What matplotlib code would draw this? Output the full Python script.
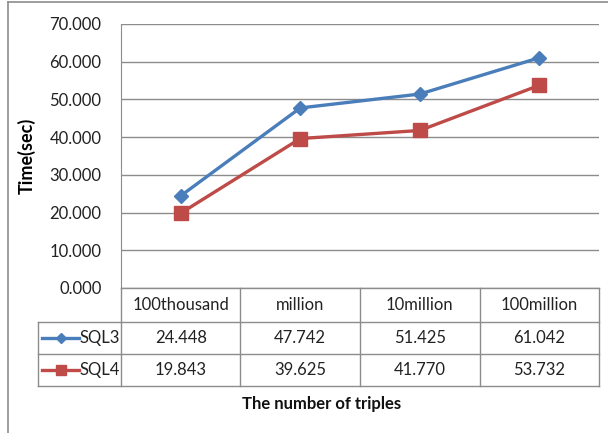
import matplotlib
matplotlib.use("Agg")
import matplotlib.pyplot as plt
from matplotlib.lines import Line2D

plt.rcParams['font.family'] = ['Lato', 'DejaVu Sans']

categories = ["100thousand", "million", "10million", "100million"]
series_names = ["SQL3", "SQL4"]
sql3 = [24.448, 47.742, 51.425, 61.042]
sql4 = [19.843, 39.625, 41.770, 53.732]
y_ticks = [0, 10, 20, 30, 40, 50, 60, 70]

W, H = 608, 433
fig = plt.figure(figsize=(W / 100, H / 100), dpi=100)


def fx(px):
    return px / W


def fy(py):
    return 1 - py / H


TXT = "#222222"
FS = 12

# plot area in pixel layout
L, R, T, B = 121, 599, 24, 288
ax = fig.add_axes([fx(L), fy(B), fx(R) - fx(L), fy(T) - fy(B)])
ax.set_xlim(-0.5, len(categories) - 0.5)
ax.set_ylim(0, 70)
ax.set_yticks(y_ticks)
ax.set_yticklabels([f"{v:.3f}" for v in y_ticks], fontsize=FS, color=TXT)
ax.set_xticks([])
ax.tick_params(axis="y", length=0, pad=14)
for s in ["top", "right", "bottom"]:
    ax.spines[s].set_visible(False)
ax.spines["left"].set_color("#8c8c8c")
ax.grid(axis="y", color="#8c8c8c", linewidth=1.0)
ax.set_axisbelow(True)

colors = ["#4a7ebb", "#be4b48"]
markers = ["D", "s"]
msizes = [7, 10]
xs = list(range(len(categories)))
for vals, c, m, ms in zip([sql3, sql4], colors, markers, msizes):
    ax.plot(xs, vals, color=c, linewidth=2.4, marker=m, markersize=ms,
            markeredgecolor=c, markerfacecolor=c, clip_on=False, zorder=3)

ax.set_ylabel("Time(sec)", fontsize=13, fontweight="bold", labelpad=10)

# data table beneath the plot
gc = "#8c8c8c"
col_x = [L + (R - L) * i / len(categories) for i in range(len(categories) + 1)]
row_y = [288, 322, 354, 386]
legend_left = 38


def hline(x0, x1, y):
    fig.add_artist(Line2D([fx(x0), fx(x1)], [fy(y), fy(y)], color=gc, linewidth=1.0))


def vline(x, y0, y1):
    fig.add_artist(Line2D([fx(x), fx(x)], [fy(y0), fy(y1)], color=gc, linewidth=1.0))


hline(L, R, row_y[0])
hline(legend_left, R, row_y[1])
hline(legend_left, R, row_y[2])
hline(legend_left, R, row_y[3])
for x in col_x:
    vline(x, row_y[0], row_y[3])
vline(legend_left, row_y[1], row_y[3])

for i, cat in enumerate(categories):
    cx = (col_x[i] + col_x[i + 1]) / 2
    fig.text(fx(cx), fy((row_y[0] + row_y[1]) / 2), cat, ha="center", va="center",
             fontsize=FS, color=TXT)

for r, (name, vals, c, m, ms) in enumerate(zip(series_names, [sql3, sql4], colors, markers, msizes)):
    cy = (row_y[r + 1] + row_y[r + 2]) / 2
    for i, v in enumerate(vals):
        cx = (col_x[i] + col_x[i + 1]) / 2
        fig.text(fx(cx), fy(cy), f"{v:.3f}", ha="center", va="center",
                 fontsize=FS, color=TXT)
    # legend key: line segment with a single marker in the middle
    fig.add_artist(Line2D([fx(42), fx(79)], [fy(cy), fy(cy)], color=c, linewidth=2.4))
    fig.add_artist(Line2D([fx(60.5)], [fy(cy)], color=c, marker=m, markersize=ms * 0.75,
                          markerfacecolor=c, markeredgecolor=c, linestyle="none"))
    fig.text(fx(80), fy(cy), name, ha="left", va="center", fontsize=FS, color=TXT)

fig.text(fx(322), fy(404), "The number of triples", ha="center", va="center",
         fontsize=12, fontweight="bold", color="#111111")

# chart frame
fig.add_artist(Line2D([fx(8), 1], [fy(2), fy(2)], color="#8c8c8c", linewidth=1.2))
fig.add_artist(Line2D([fx(8), fx(8)], [fy(2), 0], color="#8c8c8c", linewidth=1.2))

fig.savefig("out.png", dpi=100)
